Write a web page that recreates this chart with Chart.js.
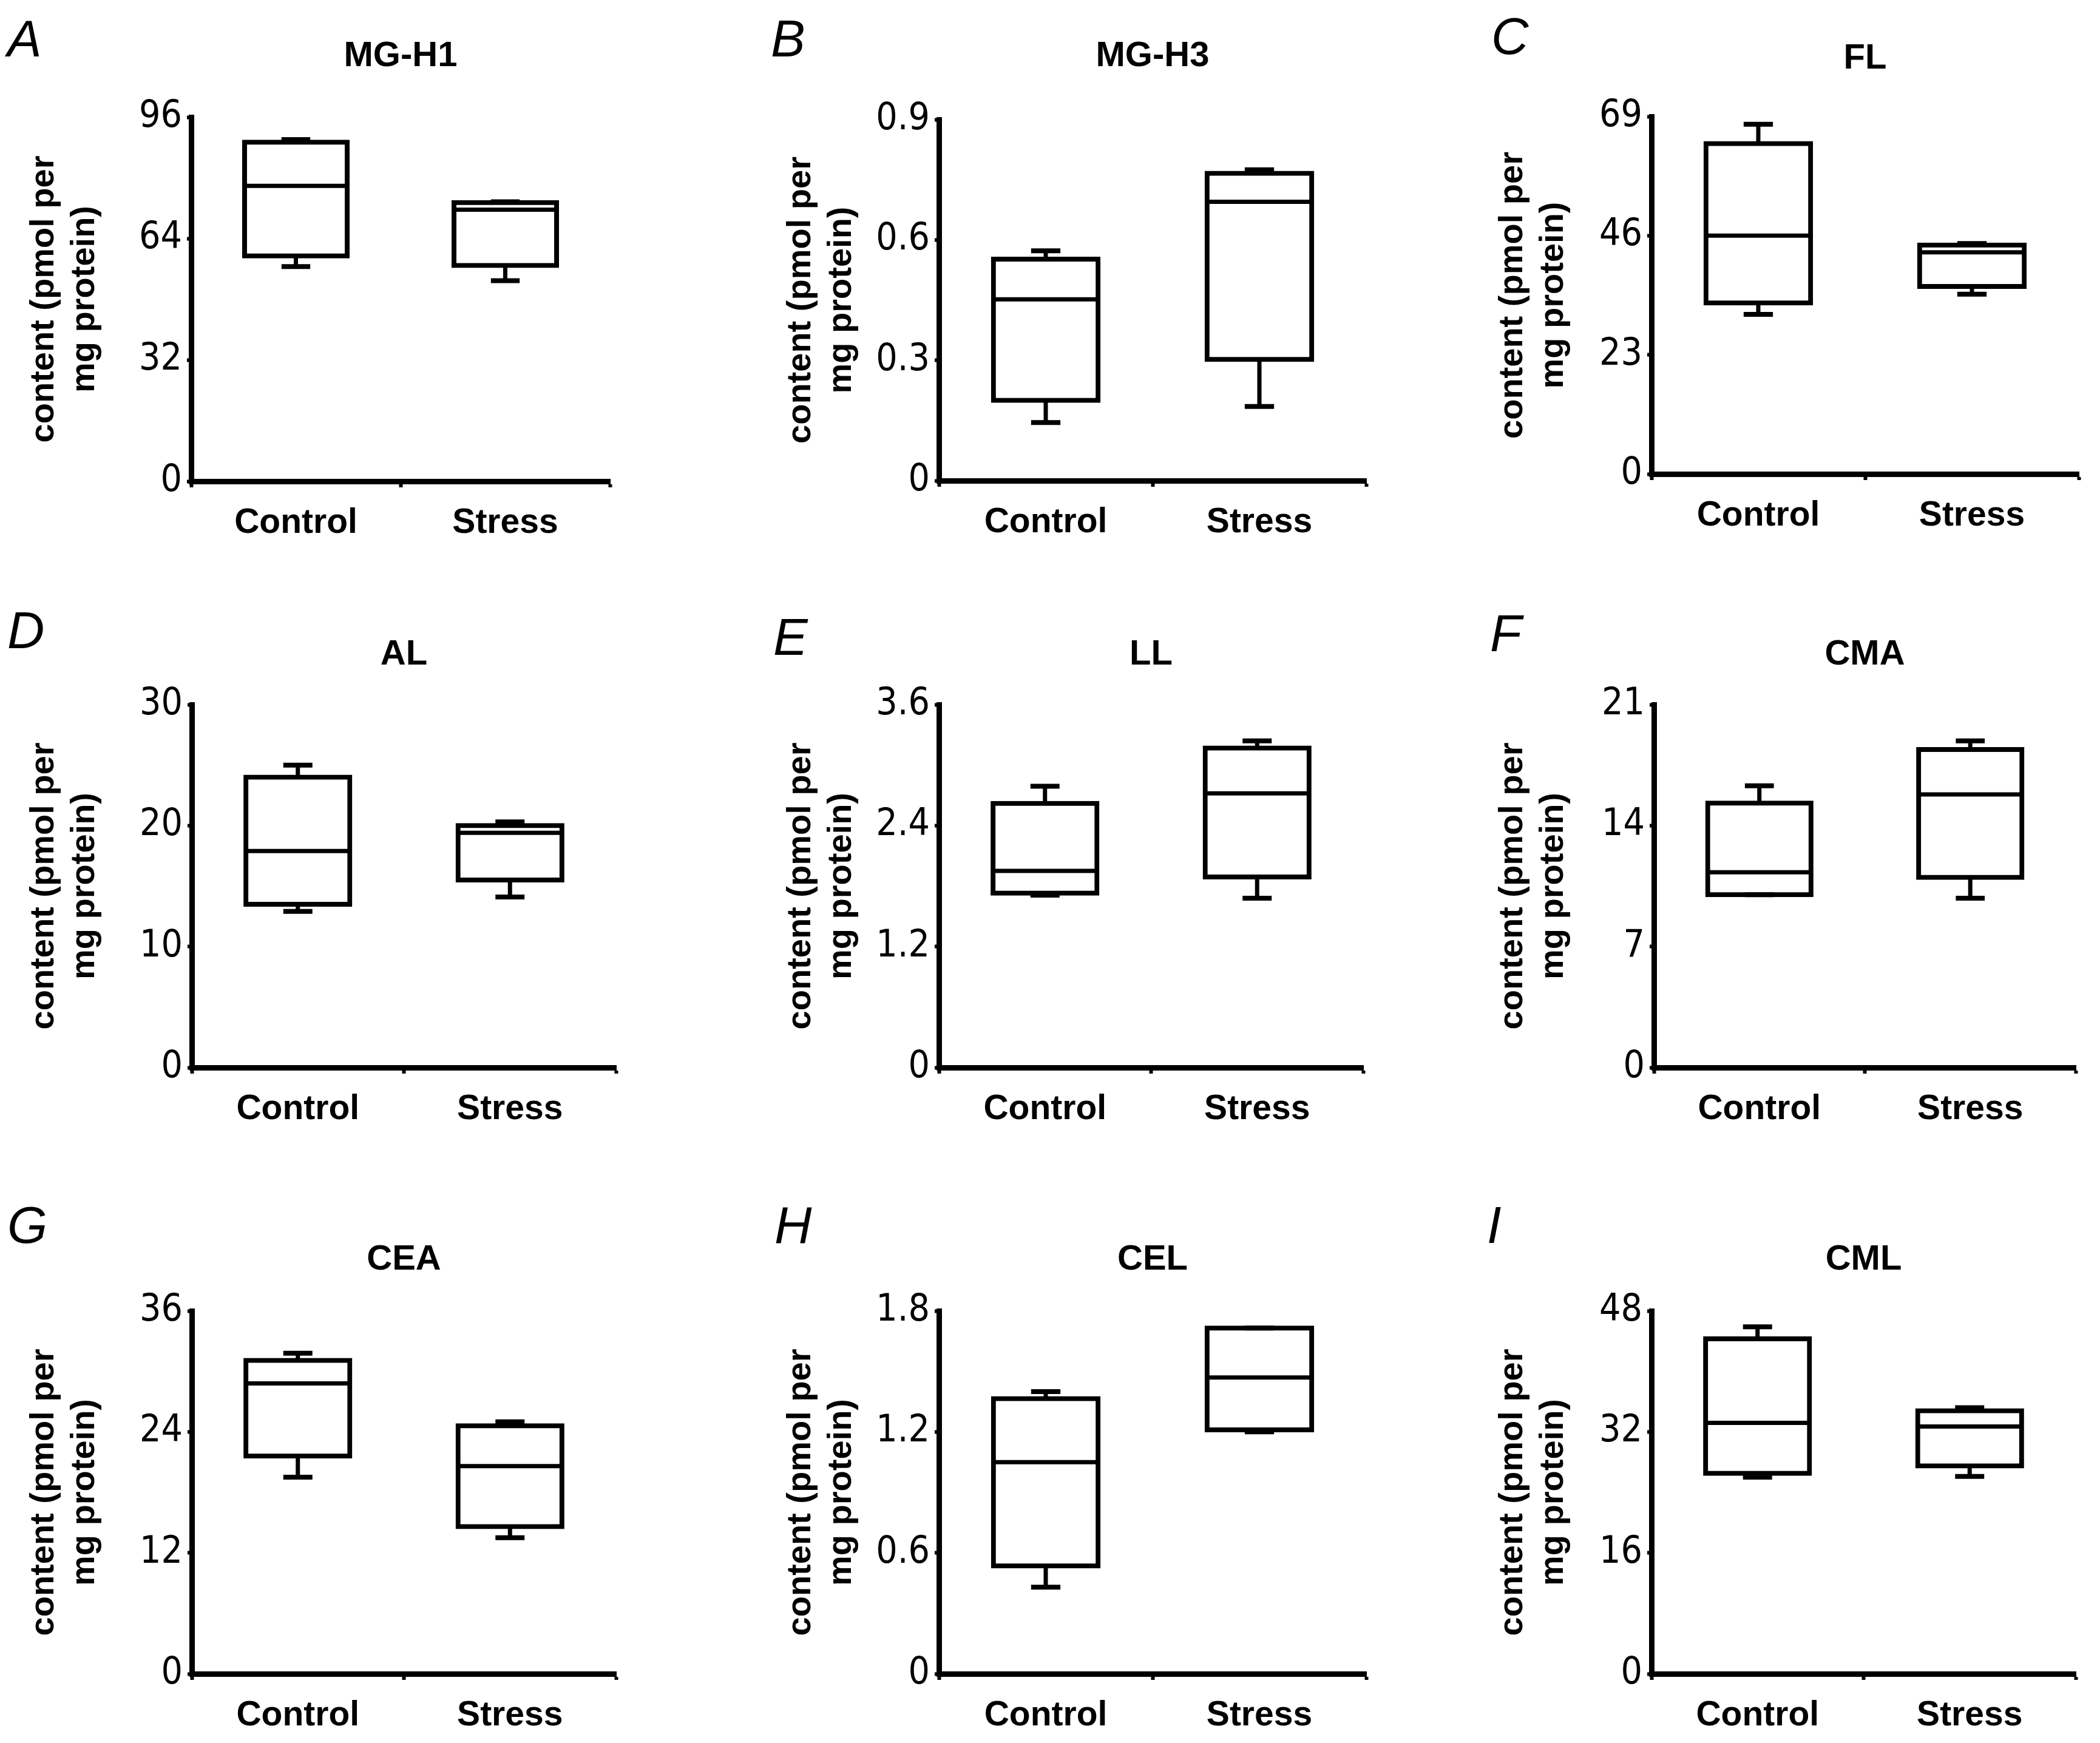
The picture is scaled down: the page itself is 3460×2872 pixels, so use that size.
<!DOCTYPE html>
<html><head><meta charset="utf-8">
<script src="https://cdn.jsdelivr.net/npm/chart.js@4.4.0/dist/chart.umd.min.js"></script>
<style>
html,body{margin:0;padding:0;background:#fff;}
#fig{position:relative;width:3460px;height:2872px;background:#fff;overflow:hidden;}
#fig canvas{position:absolute;}
.lbl{position:absolute;font-family:'Liberation Sans',Arial,sans-serif;font-style:italic;font-size:85px;line-height:1;color:#000;}
</style></head><body><div id="fig"></div>
<script>
// ---------- data ----------
const categories = ['Control', 'Stress'];
const panelLetters = ['A','B','C','D','E','F','G','H','I'];
const panelTitles = ['MG-H1','MG-H3','FL','AL','LL','CMA','CEA','CEL','CML'];
const yAxisTitle = ['content (pmol per', 'mg protein)'];
const yMaxValues = [96, 0.9, 69, 30, 3.6, 21, 36, 1.8, 48];
const yTickValues = [
  [0, 32, 64, 96], [0, 0.3, 0.6, 0.9], [0, 23, 46, 69],
  [0, 10, 20, 30], [0, 1.2, 2.4, 3.6], [0, 7, 14, 21],
  [0, 12, 24, 36], [0, 0.6, 1.2, 1.8], [0, 16, 32, 48]
];
const yTickLabels = [
  ['0','32','64','96'], ['0','0.3','0.6','0.9'], ['0','23','46','69'],
  ['0','10','20','30'], ['0','1.2','2.4','3.6'], ['0','7','14','21'],
  ['0','12','24','36'], ['0','0.6','1.2','1.8'], ['0','16','32','48']
];
// five-number summaries: [min, q1, median, q3, max]
const mgh1Control = [56.6, 59.4, 77.9, 89.4, 90.1];
const mgh1Stress  = [52.9, 56.9, 71.6, 73.5, 73.7];
const mgh3Control = [0.145, 0.200, 0.452, 0.552, 0.573];
const mgh3Stress  = [0.185, 0.302, 0.695, 0.766, 0.775];
const flControl   = [30.8, 33.0, 46.0, 63.8, 67.5];
const flStress    = [34.7, 36.2, 42.8, 44.2, 44.5];
const alControl   = [12.9, 13.5, 17.9, 24.0, 25.0];
const alStress    = [14.1, 15.5, 19.4, 20.0, 20.3];
const llControl   = [1.71, 1.73, 1.95, 2.62, 2.79];
const llStress    = [1.68, 1.89, 2.72, 3.17, 3.24];
const cmaControl  = [10.0, 10.0, 11.3, 15.3, 16.3];
const cmaStress   = [9.8, 11.0, 15.8, 18.4, 18.9];
const ceaControl  = [19.5, 21.6, 28.8, 31.1, 31.8];
const ceaStress   = [13.5, 14.6, 20.6, 24.6, 25.0];
const celControl  = [0.43, 0.535, 1.05, 1.365, 1.40];
const celStress   = [1.20, 1.21, 1.47, 1.715, 1.715];
const cmlControl  = [26.0, 26.5, 33.2, 44.3, 45.9];
const cmlStress   = [26.1, 27.5, 32.7, 34.8, 35.2];

const panelStats = [
  [mgh1Control, mgh1Stress], [mgh3Control, mgh3Stress], [flControl, flStress],
  [alControl, alStress], [llControl, llStress], [cmaControl, cmaStress],
  [ceaControl, ceaStress], [celControl, celStress], [cmlControl, cmlStress]
];

// ---------- layout (pixels) ----------
// [canvasLeft, canvasTop, axisX, axisRight, axisTop, axisBottom, titleCenterY]
const panelLayout = [
  [0,    0,    315,  1005, 193,  793,  93],
  [1247, 0,    1547, 2251, 197,  792,  93],
  [2420, 0,    2721, 3425, 192,  781,  97],
  [0,    1000, 316,  1015, 1161, 1759, 1079],
  [1247, 1000, 1547, 2246, 1161, 1759, 1079],
  [2420, 1000, 2725, 3420, 1161, 1759, 1079],
  [0,    2000, 316,  1015, 2160, 2758, 2076],
  [1247, 2000, 1547, 2251, 2160, 2758, 2076],
  [2420, 2000, 2721, 3420, 2160, 2758, 2076]
];
const letterPos = [
  [12, 21], [1270, 21], [2457, 17],
  [12, 996], [1274, 1007], [2455, 1001],
  [12, 1976], [1276, 1976], [2450, 1976]
];

const SANS = "'Liberation Sans', Arial, Helvetica, sans-serif";
const NARROW = "'Liberation Sans Narrow', 'Arial Narrow', 'DejaVu Sans Condensed', 'Liberation Sans', sans-serif";
Chart.defaults.font.family = SANS;
Chart.defaults.color = '#000';

const boxWhiskers = {
  id: 'boxWhiskers',
  afterDatasetsDraw(chart, args, opts) {
    const stats = opts.stats;
    const meta = chart.getDatasetMeta(0);
    const ys = chart.scales.y;
    const ctx = chart.ctx;
    ctx.save();
    ctx.strokeStyle = '#000';
    ctx.lineCap = 'butt';
    const seg = (x1, y1, x2, y2, w) => {
      ctx.lineWidth = w;
      ctx.beginPath(); ctx.moveTo(x1, y1); ctx.lineTo(x2, y2); ctx.stroke();
    };
    meta.data.forEach((bar, i) => {
      const s = stats[i];
      const cx = bar.x, w = bar.width, cap = w * 0.28;
      const pMin = ys.getPixelForValue(s[0]);
      const pQ1 = ys.getPixelForValue(s[1]);
      const pMed = ys.getPixelForValue(s[2]);
      const pQ3 = ys.getPixelForValue(s[3]);
      const pMax = ys.getPixelForValue(s[4]);
      seg(cx - w / 2, pMed, cx + w / 2, pMed, 7);
      seg(cx, pQ3, cx, pMax, 7);
      seg(cx - cap / 2, pMax, cx + cap / 2, pMax, 8);
      seg(cx, pQ1, cx, pMin, 7);
      seg(cx - cap / 2, pMin, cx + cap / 2, pMin, 8);
    });
    ctx.restore();
  }
};

const fig = document.getElementById('fig');

panelTitles.forEach((title, i) => {
  const [L, T, ax, ar, at, ab, tc] = panelLayout[i];
  const padR = 15, xH = 115;
  const W = ar - L + padR, H = ab + xH - T;
  const cv = document.createElement('canvas');
  cv.width = W; cv.height = H;
  cv.style.left = L + 'px'; cv.style.top = T + 'px';
  cv.style.width = W + 'px'; cv.style.height = H + 'px';
  fig.appendChild(cv);

  const tSize = 58, tLH = 1.2;
  const tHalf = tSize * tLH / 2;
  const padTop = tc - tHalf - T;
  const padBottom = at - tc - tHalf;
  const stats = panelStats[i];

  new Chart(cv, {
    type: 'bar',
    data: {
      labels: categories,
      datasets: [{
        data: stats.map(s => [s[1], s[3]]),
        backgroundColor: '#ffffff',
        borderColor: '#000000',
        borderWidth: 8,
        borderSkipped: false,
        inflateAmount: 4,
        barPercentage: 0.49,
        categoryPercentage: 1
      }]
    },
    options: {
      responsive: false,
      animation: false,
      devicePixelRatio: 1,
      layout: { padding: { left: 0, right: padR, top: 0, bottom: 0 } },
      plugins: {
        legend: { display: false },
        tooltip: { enabled: false },
        title: {
          display: true, text: title, fullSize: false, color: '#000',
          font: { family: SANS, size: tSize, weight: 'bold', lineHeight: tLH },
          padding: { top: padTop, bottom: padBottom }
        },
        boxWhiskers: { stats: stats }
      },
      scales: {
        x: {
          grid: { display: true, drawOnChartArea: false, drawTicks: true, tickLength: 10, tickWidth: 6, tickColor: '#000', offset: true },
          border: { display: true, width: 9, color: '#000' },
          ticks: { color: '#000', font: { family: SANS, size: 57, weight: 'bold', lineHeight: 1.2 }, padding: 25, maxRotation: 0, autoSkip: false },
          afterFit: s => { s.height = xH; }
        },
        y: {
          min: 0, max: yMaxValues[i],
          grid: { display: true, drawOnChartArea: false, drawTicks: true, tickLength: 7, tickWidth: 6, tickColor: '#000' },
          border: { display: true, width: 9, color: '#000' },
          afterBuildTicks: s => { s.ticks = yTickValues[i].map(v => ({ value: v })); },
          ticks: {
            color: '#000', padding: 8,
            font: { family: NARROW, size: 62, weight: 'normal', lineHeight: 1.2 },
            callback: (v, idx) => yTickLabels[i][idx]
          },
          title: {
            display: true, text: yAxisTitle, color: '#000',
            font: { family: SANS, size: 56, weight: 'bold', lineHeight: 1.18 },
            padding: { top: 40, bottom: 0 }
          },
          afterFit: s => { s.width = ax - L; }
        }
      }
    },
    plugins: [boxWhiskers]
  });

  const d = document.createElement('div');
  d.className = 'lbl';
  d.textContent = panelLetters[i];
  d.style.left = letterPos[i][0] + 'px';
  d.style.top = letterPos[i][1] + 'px';
  fig.appendChild(d);
});
</script>
</body></html>
